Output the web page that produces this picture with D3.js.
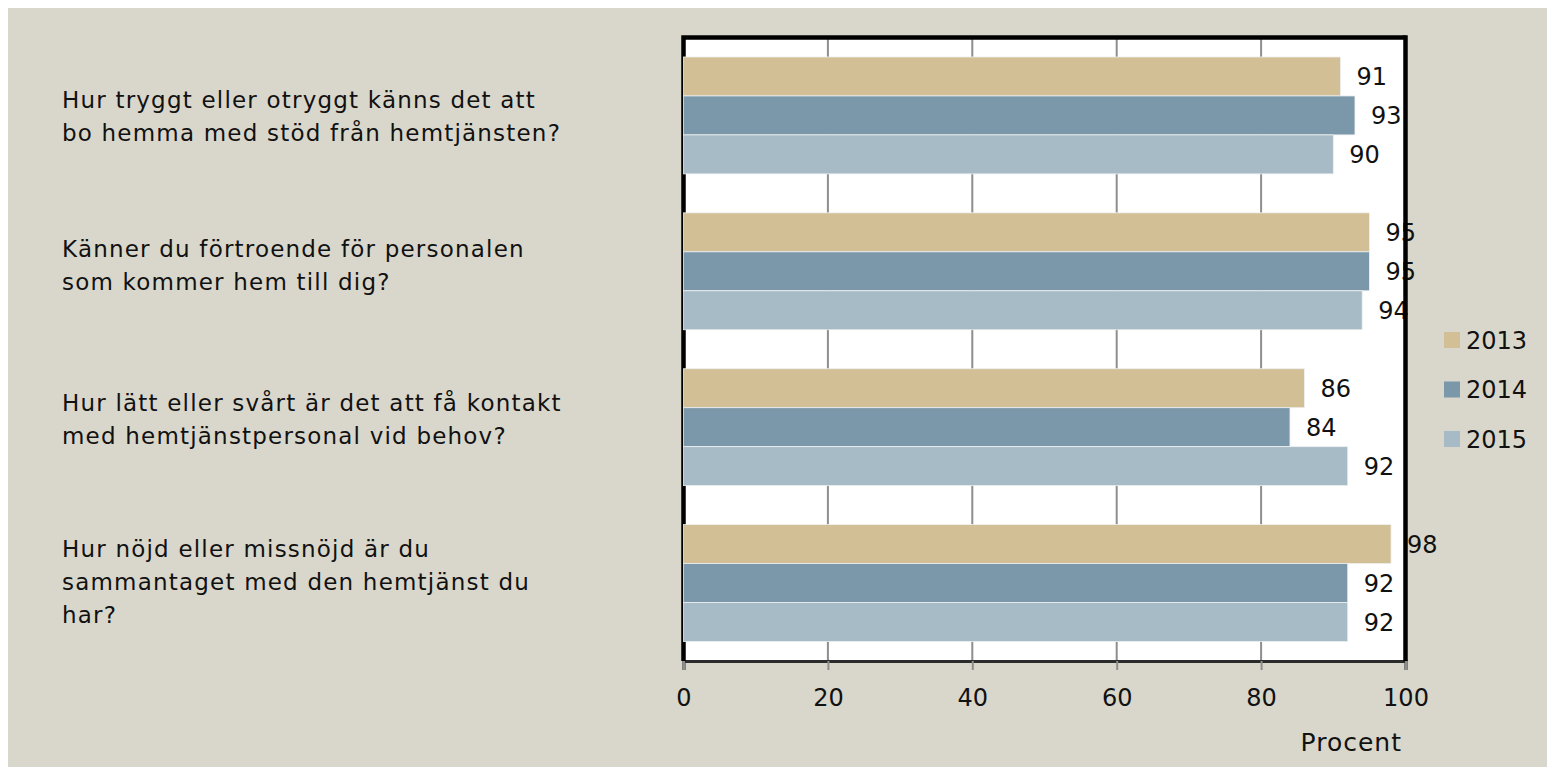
<!DOCTYPE html>
<html>
<head>
<meta charset="utf-8">
<script src="https://cdn.jsdelivr.net/npm/d3@7"></script>
<style>
  html, body { margin: 0; padding: 0; background: #ffffff; }
  svg text { font-family: "DejaVu Sans", sans-serif; fill: #111; }
</style>
</head>
<body>
<div id="chart"></div>
<script>
// chart data
var questions = [
    ["Hur tryggt eller otryggt känns det att", "bo hemma med stöd från hemtjänsten?"],
    ["Känner du förtroende för personalen", "som kommer hem till dig?"],
    ["Hur lätt eller svårt är det att få kontakt", "med hemtjänstpersonal vid behov?"],
    ["Hur nöjd eller missnöjd är du", "sammantaget med den hemtjänst du", "har?"]
];
var years = ["2013", "2014", "2015"];
var values2013 = [91, 95, 86, 98];
var values2014 = [93, 95, 84, 92];
var values2015 = [90, 94, 92, 92];
var xTicks = [0, 20, 40, 60, 80, 100];
var xTitle = "Procent";

var seriesValues = [values2013, values2014, values2015];
var colors = ["#d3bf96", "#7b98aa", "#a6bbc6"];

// small vertical nudges for the question text blocks (layout only)
var labelShift = [9, 2, 0, 7];

var svgWidth = 1547;
var svgHeight = 767;

var svg = d3.select("#chart")
    .append("svg")
    .attr("width", svgWidth)
    .attr("height", svgHeight);

// beige background, leaves a thin white edge top/left
svg.append("rect")
    .attr("x", 8)
    .attr("y", 8)
    .attr("width", svgWidth - 8)
    .attr("height", svgHeight - 8)
    .attr("fill", "#d9d7cb");

// plot area
var plot = { left: 683.5, right: 1405.5, top: 37.5, bottom: 661 };

var x = d3.scaleLinear()
    .domain([0, 100])
    .range([plot.left, plot.right]);

var y = d3.scaleBand()
    .domain(d3.range(questions.length))
    .range([plot.top, plot.bottom])
    .paddingInner(0.25)
    .paddingOuter(0.125);

var ySub = d3.scaleBand()
    .domain(years)
    .range([0, y.bandwidth()]);

svg.append("rect")
    .attr("x", plot.left)
    .attr("y", plot.top)
    .attr("width", plot.right - plot.left)
    .attr("height", plot.bottom - plot.top)
    .attr("fill", "#ffffff");

// gridlines
svg.append("g")
    .selectAll("line")
    .data(xTicks.slice(1, -1))
    .enter()
    .append("line")
    .attr("x1", d => x(d))
    .attr("x2", d => x(d))
    .attr("y1", plot.top)
    .attr("y2", plot.bottom)
    .attr("stroke", "#8e8e8e")
    .attr("stroke-width", 2);

// bottom axis
var bottomAxis = d3.axisBottom(x)
    .tickValues(xTicks)
    .tickSize(9)
    .tickPadding(19);

var axisG = svg.append("g")
    .attr("transform", `translate(0, ${plot.bottom})`)
    .call(bottomAxis);

axisG.select(".domain")
    .attr("stroke", "#2b2b2b")
    .attr("stroke-width", 3);
axisG.selectAll(".tick line")
    .attr("stroke", "#8e8e8e")
    .attr("stroke-width", 2);
axisG.selectAll(".tick text")
    .style("font-family", "DejaVu Sans, sans-serif")
    .style("font-size", "24px")
    .attr("fill", "#111");

// left and top frame (bars sit on top of it)
svg.append("path")
    .attr("d", `M${plot.left},${plot.bottom}V${plot.top}H${plot.right}`)
    .attr("fill", "none")
    .attr("stroke", "#000")
    .attr("stroke-width", 4.5);

// bars
var groups = svg.append("g")
    .selectAll("g")
    .data(questions)
    .enter()
    .append("g")
    .attr("transform", (d, i) => `translate(0, ${y(i)})`);

groups.selectAll("rect")
    .data((d, i) => years.map((yr, s) => ({ year: yr, s: s, value: seriesValues[s][i] })))
    .enter()
    .append("rect")
    .attr("x", x(0))
    .attr("y", d => ySub(d.year))
    .attr("width", d => x(d.value) - x(0))
    .attr("height", ySub.bandwidth())
    .attr("fill", d => colors[d.s])
    .attr("stroke", "#eef0f0")
    .attr("stroke-width", 0.8);

// value labels
groups.selectAll("text")
    .data((d, i) => years.map((yr, s) => ({ year: yr, s: s, value: seriesValues[s][i] })))
    .enter()
    .append("text")
    .attr("x", d => x(d.value) + 16)
    .attr("y", d => ySub(d.year) + ySub.bandwidth() / 2)
    .attr("dy", "0.36em")
    .style("font-size", "24px")
    .text(d => d.value);

// right frame line drawn over labels
svg.append("line")
    .attr("x1", plot.right)
    .attr("x2", plot.right)
    .attr("y1", plot.top - 2.25)
    .attr("y2", plot.bottom)
    .attr("stroke", "#000")
    .attr("stroke-width", 4.5);

// category labels on the left
var lineHeight = 33;
var catLabels = svg.append("g")
    .selectAll("text")
    .data(questions)
    .enter()
    .append("text")
    .attr("x", 62)
    .attr("y", (d, i) => y(i) + y.bandwidth() / 2 - (d.length - 1) * lineHeight / 2 + labelShift[i])
    .attr("dy", "0.36em")
    .style("font-size", "23px")
    .style("letter-spacing", "1.2px");

catLabels.selectAll("tspan")
    .data(d => d)
    .enter()
    .append("tspan")
    .attr("x", 62)
    .attr("dy", (d, i) => i === 0 ? 0 : lineHeight)
    .text(d => d);

// axis title
svg.append("text")
    .attr("x", 1402)
    .attr("y", 751)
    .attr("text-anchor", "end")
    .style("font-size", "25px")
    .style("letter-spacing", "1px")
    .text(xTitle);

// legend
var legend = svg.append("g")
    .selectAll("g")
    .data(years)
    .enter()
    .append("g")
    .attr("transform", (d, i) => `translate(1444, ${340 + i * 49.5})`);

legend.append("rect")
    .attr("x", 0)
    .attr("y", -8)
    .attr("width", 16)
    .attr("height", 16)
    .attr("fill", (d, i) => colors[i]);

legend.append("text")
    .attr("x", 22)
    .attr("dy", "0.36em")
    .style("font-size", "24px")
    .text(d => d);
</script>
</body>
</html>
